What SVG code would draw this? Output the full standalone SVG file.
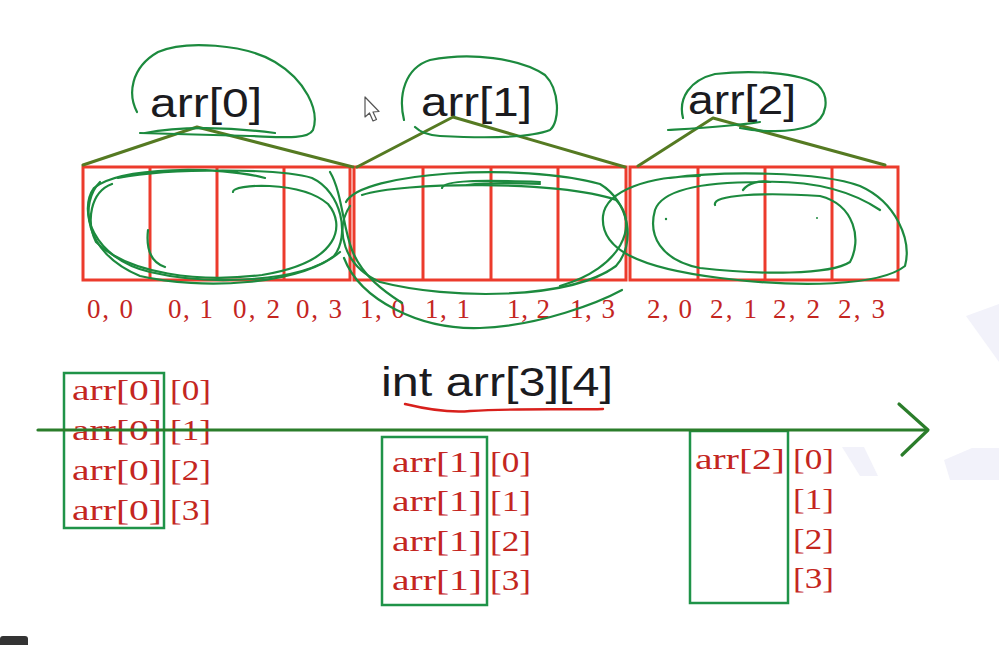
<svg xmlns="http://www.w3.org/2000/svg" width="999" height="645" viewBox="0 0 999 645">
  <style>
    .cell { fill: none; stroke: #ec3b2c; stroke-width: 3; }
    .idx { font-family: "Liberation Serif", "DejaVu Serif", serif; font-size: 27px; fill: #c4261f; }
    .elem { font-family: "Liberation Serif", "DejaVu Serif", serif; font-size: 30px; fill: #c4261f; }
    .title { font-family: "Liberation Sans", Arial, sans-serif; font-size: 41px; fill: #1b1b1f; }
    .ink { fill: none; stroke: #1c8a3e; stroke-width: 2.2; stroke-linecap: round; stroke-linejoin: round; }
    .brace { fill: none; stroke: #557a22; stroke-width: 3; stroke-linecap: round; stroke-linejoin: round; }
    .frame { fill: none; stroke: #1f9348; stroke-width: 2.5; }
    .axis { fill: none; stroke: #2b7d2b; stroke-width: 3.2; stroke-linecap: round; stroke-linejoin: round; }
    .mark { fill: #f2f2fa; }
  </style>

  <rect width="999" height="645" fill="#ffffff"/>

  <!-- faint background logo -->
  <g id="watermark">
    <polygon class="mark" points="966,316 999,304 999,362"/>
    <polygon class="mark" points="842,447 864,447 878,476 860,476"/>
    <polygon class="mark" points="944,460 972,448 999,448 999,480 950,480"/>
  </g>

  <!-- row titles -->
  <g id="title-0"><text class="title" x="150" y="117" textLength="112" lengthAdjust="spacingAndGlyphs">arr[0]</text></g>
  <g id="title-1"><text class="title" x="421" y="116" textLength="111" lengthAdjust="spacingAndGlyphs">arr[1]</text></g>
  <g id="title-2"><text class="title" x="688" y="114" textLength="108" lengthAdjust="spacingAndGlyphs">arr[2]</text></g>

  <!-- pointer -->
  <g id="cursor">
    <polygon points="365,97 365,117 369.5,113 373,121 376.5,119.5 373,112 379,111.5" fill="#ffffff" stroke="#555" stroke-width="1.2" stroke-linejoin="round"/>
  </g>

  <!-- memory cells: three rows of four -->
  <g id="row-0">
    <rect class="cell" x="83" y="167" width="267" height="113"/>
    <line class="cell" x1="150" y1="167" x2="150" y2="280"/>
    <line class="cell" x1="217" y1="167" x2="217" y2="280"/>
    <line class="cell" x1="284" y1="167" x2="284" y2="280"/>
  </g>
  <g id="row-1">
    <rect class="cell" x="354" y="167" width="272" height="113"/>
    <line class="cell" x1="423" y1="167" x2="423" y2="280"/>
    <line class="cell" x1="491" y1="167" x2="491" y2="280"/>
    <line class="cell" x1="558" y1="167" x2="558" y2="280"/>
  </g>
  <g id="row-2">
    <rect class="cell" x="630" y="167" width="268" height="113"/>
    <line class="cell" x1="698" y1="167" x2="698" y2="280"/>
    <line class="cell" x1="765" y1="167" x2="765" y2="280"/>
    <line class="cell" x1="832" y1="167" x2="832" y2="280"/>
  </g>

  <!-- cell indices -->
  <g id="indices">
    <text class="idx" x="87" y="318" textLength="46">0, 0</text>
    <text class="idx" x="168" y="318" textLength="45">0, 1</text>
    <text class="idx" x="233" y="318" textLength="47">0, 2</text>
    <text class="idx" x="296" y="318" textLength="46">0, 3</text>
    <text class="idx" x="360" y="318" textLength="45">1, 0</text>
    <text class="idx" x="425" y="318" textLength="45">1, 1</text>
    <text class="idx" x="507" y="318" textLength="43">1, 2</text>
    <text class="idx" x="570" y="318" textLength="45">1, 3</text>
    <text class="idx" x="647" y="318" textLength="45">2, 0</text>
    <text class="idx" x="710" y="318" textLength="47">2, 1</text>
    <text class="idx" x="773" y="318" textLength="47">2, 2</text>
    <text class="idx" x="838" y="318" textLength="47">2, 3</text>
  </g>

  <!-- declaration -->
  <g id="declaration">
    <text class="title" x="381" y="396" font-size="39" textLength="232" lengthAdjust="spacingAndGlyphs">int arr[3][4]</text>
    <path d="M 405,404 C 430,410 450,413 470,411 C 520,408 570,410 603,409" fill="none" stroke="#d8201c" stroke-width="2.4" stroke-linecap="round"/>
  </g>

  <!-- element columns -->
  <g id="column-0">
    <rect class="frame" x="64" y="373" width="100" height="155"/>
    <text class="elem" x="72" y="400" textLength="90" lengthAdjust="spacingAndGlyphs">arr[0]</text><text class="elem" x="170" y="400" textLength="41" lengthAdjust="spacingAndGlyphs">[0]</text>
    <text class="elem" x="72" y="440" textLength="90" lengthAdjust="spacingAndGlyphs">arr[0]</text><text class="elem" x="170" y="440" textLength="41" lengthAdjust="spacingAndGlyphs">[1]</text>
    <text class="elem" x="72" y="480" textLength="90" lengthAdjust="spacingAndGlyphs">arr[0]</text><text class="elem" x="170" y="480" textLength="41" lengthAdjust="spacingAndGlyphs">[2]</text>
    <text class="elem" x="72" y="520" textLength="90" lengthAdjust="spacingAndGlyphs">arr[0]</text><text class="elem" x="170" y="520" textLength="41" lengthAdjust="spacingAndGlyphs">[3]</text>
  </g>
  <g id="column-1">
    <rect class="frame" x="382" y="437" width="105" height="168"/>
    <text class="elem" x="392" y="472" textLength="90" lengthAdjust="spacingAndGlyphs">arr[1]</text><text class="elem" x="490" y="472" textLength="41" lengthAdjust="spacingAndGlyphs">[0]</text>
    <text class="elem" x="392" y="511" textLength="90" lengthAdjust="spacingAndGlyphs">arr[1]</text><text class="elem" x="490" y="511" textLength="41" lengthAdjust="spacingAndGlyphs">[1]</text>
    <text class="elem" x="392" y="551" textLength="90" lengthAdjust="spacingAndGlyphs">arr[1]</text><text class="elem" x="490" y="551" textLength="41" lengthAdjust="spacingAndGlyphs">[2]</text>
    <text class="elem" x="392" y="590" textLength="90" lengthAdjust="spacingAndGlyphs">arr[1]</text><text class="elem" x="490" y="590" textLength="41" lengthAdjust="spacingAndGlyphs">[3]</text>
  </g>
  <g id="column-2">
    <rect class="frame" x="690" y="431" width="98" height="172"/>
    <text class="elem" x="695" y="469" textLength="90" lengthAdjust="spacingAndGlyphs">arr[2]</text><text class="elem" x="793" y="469" textLength="41" lengthAdjust="spacingAndGlyphs">[0]</text>
    <text class="elem" x="793" y="509" textLength="41" lengthAdjust="spacingAndGlyphs">[1]</text>
    <text class="elem" x="793" y="549" textLength="41" lengthAdjust="spacingAndGlyphs">[2]</text>
    <text class="elem" x="793" y="588" textLength="41" lengthAdjust="spacingAndGlyphs">[3]</text>
  </g>

  <!-- connectors: row braces and the address axis -->
  <g id="connectors">
    <polyline class="brace" points="83,165 197,127 353,167"/>
    <polyline class="brace" points="357,167 453,117 625,167"/>
    <polyline class="brace" points="638,166 713,118 885,165"/>
    <line class="axis" x1="38" y1="430" x2="927" y2="430"/>
    <polyline class="axis" points="899,404 928,430 902,455"/>
  </g>

  <!-- freehand pen strokes -->
  <g id="pen-strokes">
    <!-- around titles -->
    <path class="ink" d="M 137,112 C 128,95 130,68 158,52 C 185,40 245,44 275,62 C 305,80 320,110 313,130 C 308,140 280,137 250,136 C 210,135 175,134 140,133"/>
    <path class="ink" d="M 145,133 C 180,126 230,127 275,133"/>
    <path class="ink" d="M 404,120 C 398,95 405,68 430,60 C 470,52 520,58 545,75 C 560,90 560,122 550,130 C 530,138 480,138 440,136 C 425,135 418,130 415,127"/>
    <path class="ink" d="M 683,118 C 678,98 690,80 715,74 C 750,70 800,72 818,85 C 830,97 828,118 810,126 C 790,133 760,132 740,128"/>
    <path class="ink" d="M 668,130 C 700,128 735,126 760,122"/>
    <!-- row 0 -->
    <path class="ink" d="M 265,178 C 220,166 120,166 94,188 C 78,210 92,258 150,272 C 210,286 300,282 334,256 C 350,236 342,192 312,178 C 280,168 170,168 118,178"/>
    <path class="ink" d="M 100,182 C 80,202 82,252 140,276 C 200,290 300,286 340,252"/>
    <path class="ink" d="M 233,192 C 232,184 300,180 328,204 C 345,224 342,262 262,275 C 200,283 128,274 96,242 C 86,222 90,192 112,184"/>
    <path class="ink" d="M 148,230 C 146,248 150,262 165,267"/>
    <path class="ink" d="M 330,172 C 342,192 343,228 352,250 C 362,276 385,292 402,303"/>
    <!-- row 1 -->
    <path class="ink" d="M 346,202 C 362,172 520,162 600,184 C 630,202 636,244 616,266 C 570,300 450,300 380,282 C 344,266 334,230 350,206"/>
    <path class="ink" d="M 344,258 C 360,300 420,330 480,328 C 540,326 600,302 622,290"/>
    <path class="ink" d="M 362,195 C 400,182 560,180 616,200 C 640,224 622,268 560,286"/>
    <path class="ink" d="M 442,188 C 444,180 480,180 540,182"/>
    <path class="ink" d="M 467,185 C 490,182 520,183 540,184"/>
    <!-- row 2 -->
    <path class="ink" d="M 700,176 C 650,176 606,190 603,216 C 600,250 640,268 720,278 C 800,288 880,286 905,266 C 912,240 896,202 860,186 C 820,171 720,171 670,178"/>
    <path class="ink" d="M 715,205 C 712,195 760,192 820,196 C 855,205 862,240 850,262 C 830,275 760,275 700,268 C 660,260 648,235 655,210 C 662,190 700,182 760,182 C 810,180 850,190 880,210"/>
    <path class="ink" d="M 743,190 C 748,183 760,180 770,182"/>
    <circle cx="666" cy="219" r="1.2" fill="#1c8a3e"/>
    <circle cx="817" cy="218" r="1" fill="#1c8a3e"/>
  </g>

  <!-- corner block -->
  <rect x="0" y="636" width="28" height="12" rx="3" fill="#333333"/>
</svg>
